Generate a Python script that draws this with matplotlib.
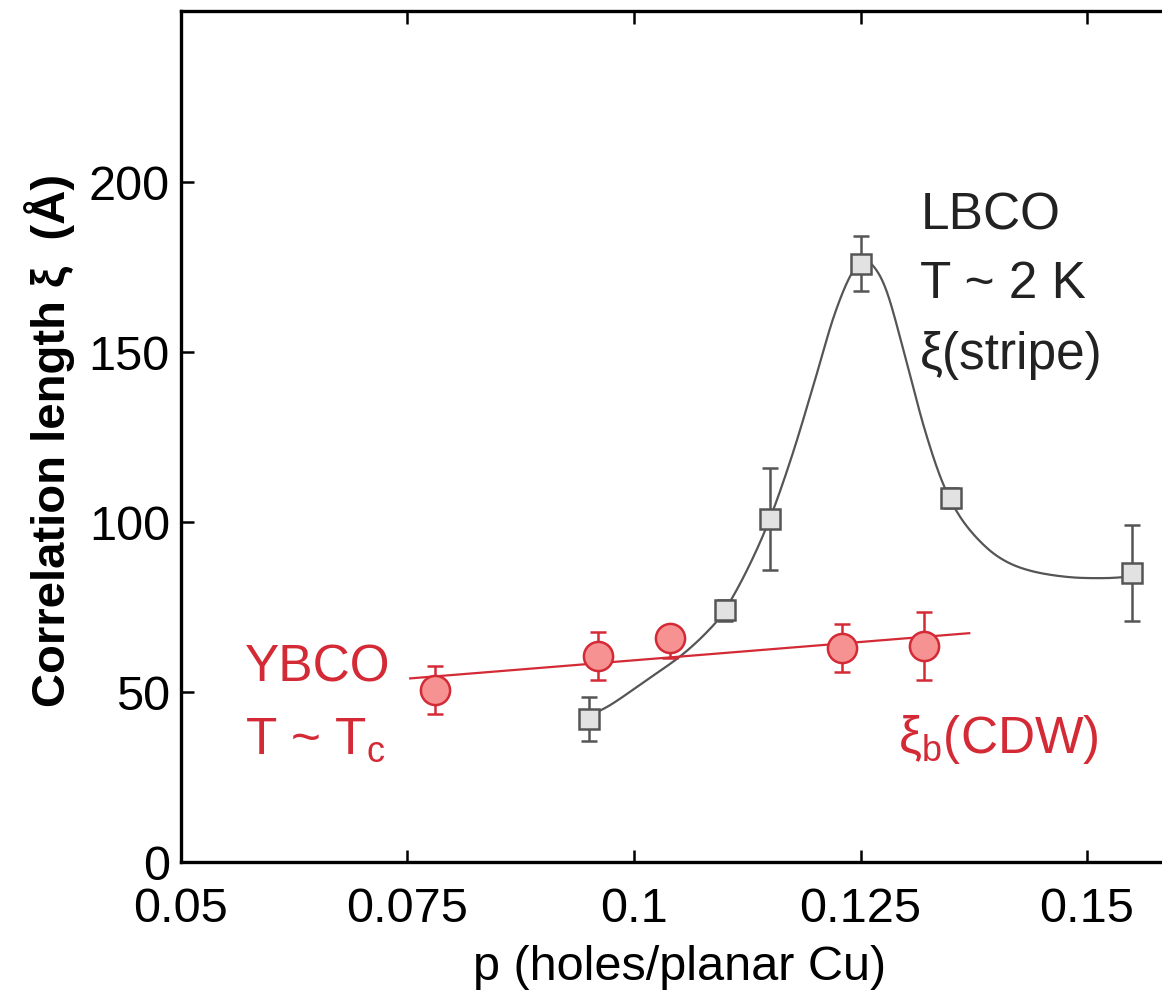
import numpy as np
import matplotlib
matplotlib.use("Agg")
import matplotlib.pyplot as plt

plt.rcParams['font.family'] = ['Liberation Sans', 'DejaVu Sans']

# LBCO stripe data
lbco_p = [0.095, 0.110, 0.115, 0.125, 0.135, 0.155]
lbco_xi = [42, 74, 101, 176, 107, 85]
lbco_err = [6.5, 3, 15, 8, 3, 14]

# LBCO guide curve
guide_p = [0.0955, 0.0977, 0.1014, 0.1051, 0.1080, 0.1100, 0.1125, 0.1150, 0.1175,
           0.1200, 0.1220, 0.1238, 0.1252, 0.1265, 0.1280, 0.1300, 0.1320, 0.1340,
           0.1360, 0.1385, 0.1410, 0.1440, 0.1480, 0.1520, 0.1550]
guide_xi = [43.5, 46.7, 53.5, 60.5, 67.5, 74.0, 86.0, 101.0, 120.0,
            142.0, 160.0, 172.0, 176.5, 175.0, 167.0, 148.0, 128.0, 112.0,
            101.5, 93.5, 88.5, 85.5, 83.8, 83.5, 84.0]

# YBCO CDW data
ybco_p = [0.078, 0.096, 0.104, 0.123, 0.132]
ybco_xi = [50.6, 60.6, 66.0, 63.0, 63.5]
ybco_err_lo = [7, 7, 6, 7, 10]
ybco_err_hi = [7, 7, 3, 7, 10]

# YBCO linear fit endpoints
fit_p = [0.0753, 0.1370]
fit_xi = [54.0, 67.3]

xticks = [0.05, 0.075, 0.1, 0.125, 0.15]
xticklabels = ['0.05', '0.075', '0.1', '0.125', '0.15']
yticks = [0, 50, 100, 150, 200]

RED = '#d42a36'
RED_FACE = '#f79293'
GREY = '#555555'
GREY_FACE = '#e2e2e2'


def catmull_rom(xs, ys, n=20):
    xs = np.asarray(xs, float); ys = np.asarray(ys, float)
    px = np.concatenate([[2*xs[0]-xs[1]], xs, [2*xs[-1]-xs[-2]]])
    py = np.concatenate([[2*ys[0]-ys[1]], ys, [2*ys[-1]-ys[-2]]])
    outx, outy = [], []
    t = np.linspace(0, 1, n, endpoint=False)
    for i in range(1, len(px)-2):
        for arr, out in ((px, outx), (py, outy)):
            p0, p1, p2, p3 = arr[i-1], arr[i], arr[i+1], arr[i+2]
            out.extend(0.5*((2*p1) + (-p0+p2)*t + (2*p0-5*p1+4*p2-p3)*t**2 + (-p0+3*p1-3*p2+p3)*t**3))
    outx.append(xs[-1]); outy.append(ys[-1])
    return np.array(outx), np.array(outy)


fig = plt.figure(figsize=(11.62, 9.93), dpi=100)
ax = fig.add_axes([181/1162, 131/993, 1 - 181/1162, (862-11)/993])
ax.set_xlim(0.05, 0.05 + 981/9060)
ax.set_ylim(0, 250.3)

# guide curve
gx, gy = catmull_rom(guide_p, guide_xi)
ax.plot(gx, gy, color=GREY, lw=1.6, zorder=2)

# YBCO fit line
ax.plot(fit_p, fit_xi, color=RED, lw=1.6, zorder=2)

# LBCO squares
ax.errorbar(lbco_p, lbco_xi, yerr=lbco_err, fmt='s', ms=14, mfc=GREY_FACE, mec=GREY,
            mew=1.8, ecolor=GREY, elinewidth=1.8, capsize=6, capthick=1.8, zorder=3)

# YBCO circles
ax.errorbar(ybco_p, ybco_xi, yerr=[ybco_err_lo, ybco_err_hi], fmt='o', ms=21, mfc=RED_FACE,
            mec=RED, mew=1.8, ecolor=RED, elinewidth=1.8, capsize=6, capthick=1.8, zorder=3)

ax.set_xticks(xticks)
ax.set_xticklabels(xticklabels)
ax.set_yticks(yticks)
ax.tick_params(axis='both', direction='in', length=9, width=1.8, labelsize=35, top=True,
               right=False)
ax.tick_params(axis='y', pad=8)
ax.tick_params(axis='x', pad=18)
for side in ['left', 'top', 'bottom']:
    ax.spines[side].set_linewidth(2.4)
ax.spines['right'].set_visible(False)

ax.set_xlabel('p (holes/planar Cu)', fontsize=35)
ax.xaxis.set_label_coords((680-181)/981, (862-967)/851, transform=ax.transAxes)
ax.xaxis.label.set_va('center')
ax.set_ylabel('Correlation length ξ  (Å)', fontsize=34, fontweight='semibold')
ax.yaxis.set_label_coords((50-181)/981, (862-440)/851, transform=ax.transAxes)
ax.yaxis.label.set_va('center')

# annotations
for txt, yv in [('LBCO', 190), ('T ~ 2 K', 170), ('ξ(stripe)', 149)]:
    ax.text(0.1316, yv, txt, fontsize=37, color='#222222', ha='left', va='center')
ax.text(0.0571, 57, 'YBCO', fontsize=37, color=RED, ha='left', va='center')
ax.text(0.0571, 36, r'T ~ T$_\mathregular{c}$', fontsize=37, color=RED, ha='left', va='center')
ax.text(0.1291, 36, r'ξ$_\mathregular{b}$(CDW)', fontsize=37, color=RED, ha='left', va='center')

fig.savefig('out.png', dpi=100)
